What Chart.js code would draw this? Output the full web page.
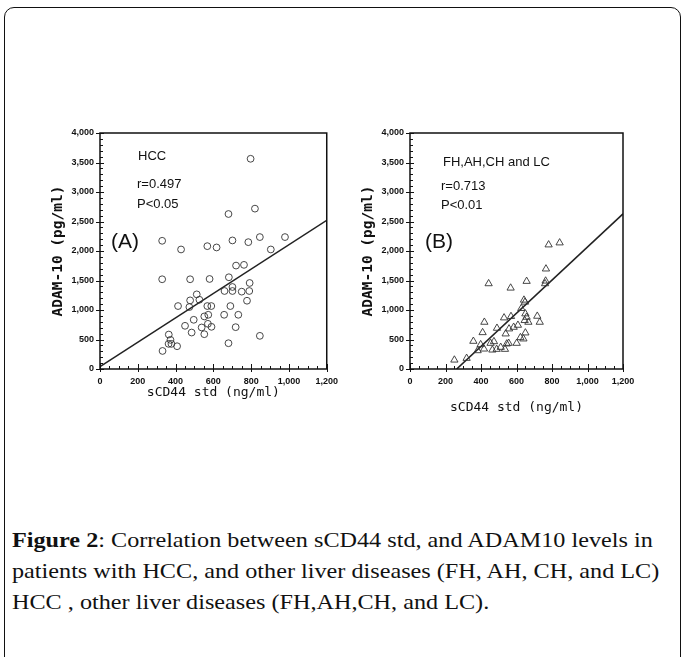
<!DOCTYPE html>
<html>
<head>
<meta charset="utf-8">
<script src="https://cdn.jsdelivr.net/npm/chart.js@4.4.1/dist/chart.umd.min.js"></script>
<style>
  body { margin: 0; width: 683px; height: 657px; background: #fff; position: relative; overflow: hidden; }
  .frame { position: absolute; left: 4px; top: 7px; width: 677px; height: 662px; border: 1.5px solid #111; border-radius: 10px; box-sizing: border-box; }
  #chartA { position: absolute; left: 0; top: 100px; }
  #chartB { position: absolute; left: 310px; top: 100px; }
  .caption { position: absolute; left: 12px; top: 524px; font-family: "Liberation Serif", "Times New Roman", serif; font-size: 22px; line-height: 31px; color: #111; white-space: nowrap; transform: scaleX(1.1); transform-origin: 0 0; }
  .caption b { font-weight: bold; }
</style>
</head>
<body>
<div class="frame"></div>
<canvas id="chartA" width="345" height="340"></canvas>
<canvas id="chartB" width="345" height="340"></canvas>
<div class="caption">
  <b>Figure 2</b>: Correlation between sCD44 std, and ADAM10 levels in<br>
  patients with HCC, and other liver diseases (FH, AH, CH, and LC)<br>
  HCC , other liver diseases (FH,AH,CH, and LC).
</div>
<script>
// (A) HCC  - sCD44 std (ng/ml) vs ADAM-10 (pg/ml)
const hccX = [797, 680, 820, 329, 429, 568, 617, 701, 785, 846, 979, 904, 720, 762,
              329, 477, 580, 682, 792, 701, 659, 701, 750, 790, 512, 477, 526, 473,
              413, 568, 589, 690, 778, 496, 552, 573, 657, 732, 450, 571, 485, 538,
              590, 718, 552, 846, 364, 373, 363, 378, 408, 680, 331];
const hccY = [3563, 2627, 2718, 2173, 2026, 2082, 2060, 2179, 2150, 2236, 2236, 2026, 1753, 1765,
              1521, 1521, 1526, 1555, 1458, 1390, 1322, 1322, 1311, 1322, 1265, 1163, 1174, 1050,
              1067, 1067, 1067, 1067, 1157, 834, 891, 919, 919, 919, 732, 766, 618, 704,
              715, 709, 590, 562, 584, 494, 426, 426, 386, 437, 306];
const hccFitX = [0, 1200];
const hccFitY = [40, 2520];

// (B) FH, AH, CH and LC
const otherX = [250, 319, 357, 381, 398, 409, 419, 417, 443, 454, 464, 473, 490, 488,
                511, 530, 535, 539, 545, 558, 567, 569, 556, 584, 601, 608, 622, 627,
                642, 648, 650, 657, 639, 650, 657, 667, 717, 731, 761, 764, 766, 781,
                843, 646];
const otherY = [153, 182, 471, 312, 414, 618, 794, 340, 1447, 437, 323, 465, 692, 335,
                369, 868, 335, 596, 426, 681, 1373, 891, 437, 709, 437, 743, 533, 1027,
                1169, 1135, 936, 1487, 511, 613, 879, 794, 896, 794, 1447, 1492, 1697, 2105,
                2139, 823];
const otherFitX = [263, 1200];
const otherFitY = [0, 2630];

const xTickStep = 200, xMinorStep = 50, xMax = 1200;
const yTickStep = 500, yMinorStep = 100, yMax = 4000;

const noteFont = "13px 'Liberation Sans', Arial, sans-serif";
const tagFont = "21px 'Liberation Sans', Arial, sans-serif";
const notesA = [
  { text: "HCC", dx: 38, dy: 23, font: noteFont },
  { text: "r=0.497", dx: 37, dy: 51, font: noteFont },
  { text: "P<0.05", dx: 37, dy: 71, font: noteFont },
  { text: "(A)", dx: 11, dy: 109, font: tagFont }
];
const notesB = [
  { text: "FH,AH,CH and LC", dx: 33, dy: 29, font: noteFont },
  { text: "r=0.713", dx: 31, dy: 53, font: noteFont },
  { text: "P<0.01", dx: 31, dy: 72, font: noteFont },
  { text: "(B)", dx: 15, dy: 109, font: tagFont }
];

// box round the plot, the tick marks and the text notes
const frameAndTicks = {
  id: "frameAndTicks",
  afterDraw(chart, args, opts) {
    const { ctx, chartArea: { left, top, right, bottom }, scales: { x, y } } = chart;
    ctx.save();
    ctx.strokeStyle = "#111";
    ctx.lineWidth = 1.5;
    ctx.strokeRect(left, top, right - left, bottom - top);

    ctx.lineWidth = 1;
    ctx.beginPath();
    for (let v = 0; v <= yMax; v += yMinorStep) {
      const py = Math.round(y.getPixelForValue(v)) + 0.5;
      if (v % yTickStep === 0) {
        ctx.moveTo(left - 4, py); ctx.lineTo(left + 4, py);
      } else {
        ctx.moveTo(left, py); ctx.lineTo(left + 3, py);
      }
    }
    for (let v = 0; v <= xMax; v += xMinorStep) {
      const px = Math.round(x.getPixelForValue(v)) + 0.5;
      if (v % xTickStep === 0) {
        ctx.moveTo(px, bottom + 3); ctx.lineTo(px, bottom - 5);
      } else {
        ctx.moveTo(px, bottom); ctx.lineTo(px, bottom - 3);
      }
    }
    ctx.stroke();

    ctx.fillStyle = "#111";
    ctx.textBaseline = "middle";
    ctx.textAlign = "left";
    (opts.notes || []).forEach(n => {
      ctx.font = n.font;
      ctx.fillText(n.text, left + n.dx, top + n.dy);
    });
    ctx.restore();
  }
};

function makeChart(id, xs, ys, fitX, fitY, pointStyle, radius, notes, rightPad, xTitlePad) {
  const points = xs.map((v, i) => ({ x: v, y: ys[i] }));
  const fit = fitX.map((v, i) => ({ x: v, y: fitY[i] }));
  const tickFont = { family: "'Liberation Sans', Arial, sans-serif", size: 9, weight: "bold" };
  return new Chart(document.getElementById(id), {
    type: "scatter",
    data: {
      datasets: [
        {
          data: points,
          pointStyle: pointStyle,
          pointRadius: radius,
          pointBorderWidth: 0.9,
          pointBorderColor: "#333",
          pointBackgroundColor: "rgba(255,255,255,0)",
          order: 1
        },
        {
          data: fit,
          showLine: true,
          pointRadius: 0,
          borderColor: "#222",
          borderWidth: 1.6,
          order: 2
        }
      ]
    },
    options: {
      responsive: false,
      animation: false,
      layout: { padding: { top: 33, right: rightPad, left: 0, bottom: 0 } },
      plugins: {
        legend: { display: false },
        tooltip: { enabled: false },
        frameAndTicks: { notes: notes }
      },
      scales: {
        x: {
          type: "linear",
          min: 0,
          max: xMax,
          border: { display: false },
          grid: { display: false, drawTicks: false },
          ticks: {
            stepSize: xTickStep,
            color: "#111",
            padding: 7,
            maxRotation: 0,
            font: tickFont
          },
          title: {
            display: true,
            text: "sCD44 std (ng/ml)",
            color: "#111",
            padding: { top: 0, bottom: xTitlePad },
            font: { family: "'DejaVu Sans Mono', monospace", size: 13 }
          },
          afterFit: scale => { scale.height = 71; }
        },
        y: {
          type: "linear",
          min: 0,
          max: yMax,
          border: { display: false },
          grid: { display: false, drawTicks: false },
          ticks: {
            stepSize: yTickStep,
            color: "#111",
            padding: 6,
            font: tickFont
          },
          title: {
            display: true,
            text: "ADAM-10 (pg/ml)",
            color: "#111",
            padding: { top: 50, bottom: 0 },
            font: { family: "'DejaVu Sans Mono', monospace", size: 14.5, weight: "bold" }
          },
          afterFit: scale => { scale.width = 100; }
        }
      }
    },
    plugins: [frameAndTicks]
  });
}

makeChart("chartA", hccX, hccY, hccFitX, hccFitY, "circle", 3.4, notesA, 17, 40);
makeChart("chartB", otherX, otherY, otherFitX, otherFitY, "triangle", 4.2, notesB, 32, 25);
</script>
</body>
</html>
